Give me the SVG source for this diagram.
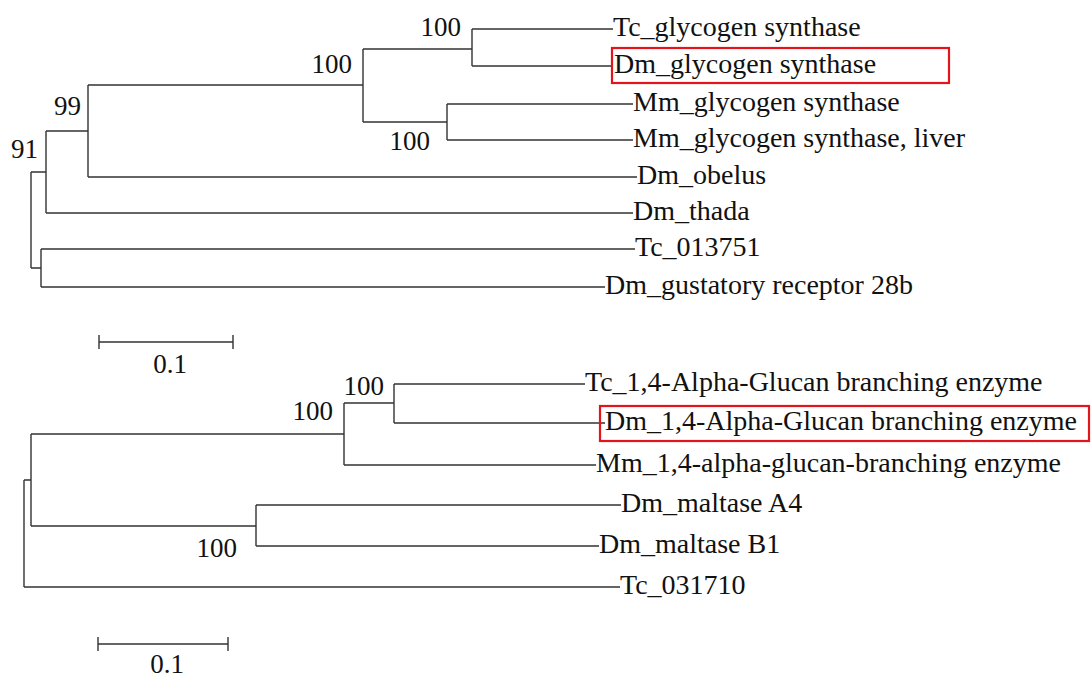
<svg xmlns="http://www.w3.org/2000/svg" width="1091" height="677" viewBox="0 0 1091 677">
<style>
.br{fill:none;stroke:#333;stroke-width:1.4}
.tx{font-family:"Liberation Serif","Times New Roman",serif;font-size:28px;fill:#111}
.bs{font-family:"Liberation Serif","Times New Roman",serif;font-size:27px;fill:#111;text-anchor:end}
.sc{font-family:"Liberation Serif","Times New Roman",serif;font-size:27px;fill:#111;text-anchor:middle}
.hl{fill:none;stroke:#e3141b;stroke-width:2.2}
</style>
<rect width="1091" height="677" fill="#fff"/>
<g id="connectors">
<!-- top tree -->
<path class="br" d="M31 172V268"/>
<path class="br" d="M31 172H46M46 131V213M46 213H633"/>
<path class="br" d="M46 131H88M88 85V177M88 177H637"/>
<path class="br" d="M88 85H363M363 49V122"/>
<path class="br" d="M363 49H472M472 29V66M472 29H613M472 66H613"/>
<path class="br" d="M363 122H447M447 104V140M447 104H633M447 140H633"/>
<path class="br" d="M31 268H41M41 249V287M41 249H635M41 287H605"/>
<!-- bottom tree -->
<path class="br" d="M24 480V587"/>
<path class="br" d="M24 480H31M31 434V526M24 587H620"/>
<path class="br" d="M31 434H344M344 403V465M344 465H596"/>
<path class="br" d="M344 403H394M394 384V423M394 384H585M394 423H605"/>
<path class="br" d="M31 526H256M256 505V546M256 505H621M256 546H599"/>
</g>
<g id="node-tc-glycogen-synthase"><text class="tx" x="613" y="36">Tc_glycogen synthase</text></g>
<g id="node-dm-glycogen-synthase"><rect class="hl" x="612" y="48" width="337" height="35"/><text class="tx" x="614" y="73">Dm_glycogen synthase</text></g>
<g id="node-mm-glycogen-synthase"><text class="tx" x="633" y="111">Mm_glycogen synthase</text></g>
<g id="node-mm-glycogen-synthase-liver"><text class="tx" x="633" y="147">Mm_glycogen synthase, liver</text></g>
<g id="node-dm-obelus"><text class="tx" x="637" y="184">Dm_obelus</text></g>
<g id="node-dm-thada"><text class="tx" x="633" y="220">Dm_thada</text></g>
<g id="node-tc-013751"><text class="tx" x="635" y="256">Tc_013751</text></g>
<g id="node-dm-gustatory"><text class="tx" x="605" y="294">Dm_gustatory receptor 28b</text></g>
<g id="bootstrap-top">
<text class="bs" x="461" y="36">100</text>
<text class="bs" x="352" y="73">100</text>
<text class="bs" x="430" y="150">100</text>
<text class="bs" x="81" y="115">99</text>
<text class="bs" x="38" y="158">91</text>
</g>
<g id="scale-top">
<path class="br" d="M99 342H233M99 335V349M233 335V349"/>
<text class="sc" x="170" y="373">0.1</text>
</g>
<g id="node-tc-branching"><text class="tx" x="585" y="391">Tc_1,4-Alpha-Glucan branching enzyme</text></g>
<g id="node-dm-branching"><rect class="hl" x="600" y="406" width="489" height="35"/><text class="tx" x="605" y="430">Dm_1,4-Alpha-Glucan branching enzyme</text></g>
<g id="node-mm-branching"><text class="tx" x="596" y="472">Mm_1,4-alpha-glucan-branching enzyme</text></g>
<g id="node-dm-maltase-a4"><text class="tx" x="621" y="512">Dm_maltase A4</text></g>
<g id="node-dm-maltase-b1"><text class="tx" x="599" y="553">Dm_maltase B1</text></g>
<g id="node-tc-031710"><text class="tx" x="620" y="594">Tc_031710</text></g>
<g id="bootstrap-bottom">
<text class="bs" x="384" y="395">100</text>
<text class="bs" x="333" y="420">100</text>
<text class="bs" x="237" y="557">100</text>
</g>
<g id="scale-bottom">
<path class="br" d="M98 644H228M98 637V651M228 637V651"/>
<text class="sc" x="167" y="673">0.1</text>
</g>
</svg>
